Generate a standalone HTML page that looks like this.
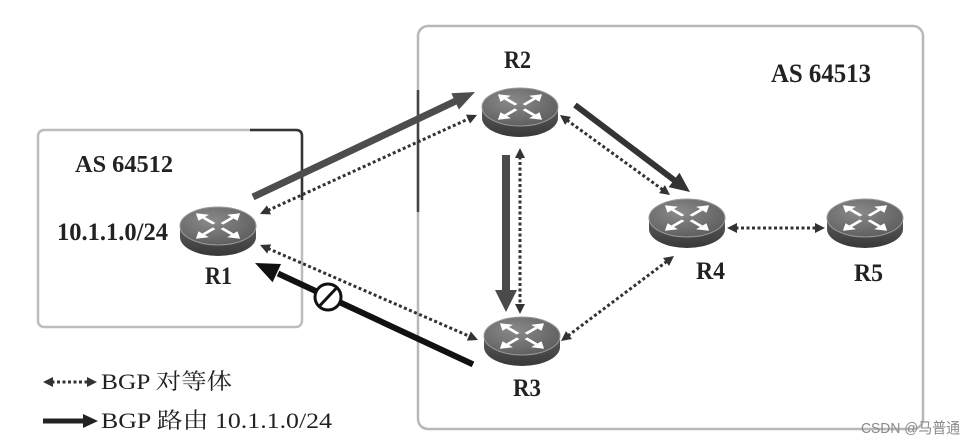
<!DOCTYPE html>
<html><head><meta charset="utf-8"><style>
html,body{margin:0;padding:0;background:#fff;}
svg{display:block;}
text{font-family:"Liberation Serif","Noto Serif CJK SC",serif;fill:#222;}
</style></head><body>
<svg width="976" height="443" viewBox="0 0 976 443" xmlns="http://www.w3.org/2000/svg">
<defs>
 <linearGradient id="side" x1="0" y1="0" x2="0" y2="1"><stop offset="0" stop-color="#5c5c5c"/><stop offset="1" stop-color="#383838"/></linearGradient>
 <radialGradient id="face" cx="0.4" cy="0.35" r="0.75"><stop offset="0" stop-color="#8a8a8a"/><stop offset="1" stop-color="#5a5a5a"/></radialGradient>
 <marker id="dh" viewBox="0 0 10 10" refX="7" refY="5" markerWidth="10" markerHeight="10" markerUnits="userSpaceOnUse" orient="auto-start-reverse"><path d="M0,0 L10,5 L0,10 z" fill="#333"/></marker>
 <g id="arr"><line x1="3" y1="-3" x2="11" y2="-11" stroke="#fff" stroke-width="3"/><path d="M17,-17 L7,-15 L15,-7 z" fill="#fff"/></g>
 <g id="router">
   <path d="M-38,0 L-38,11 A38,19 0 0 0 38,11 L38,0 z" fill="url(#side)"/>
   <ellipse rx="38" ry="19" fill="url(#face)" stroke="#9a9a9a" stroke-width="1"/>
   <g transform="scale(1.3,0.75)">
     <use href="#arr"/>
     <use href="#arr" transform="rotate(90)"/>
     <use href="#arr" transform="rotate(180)"/>
     <use href="#arr" transform="rotate(270)"/>
   </g>
 </g>
</defs>

<!-- AS boxes -->
<rect x="418" y="26" width="505" height="403" rx="10" fill="none" stroke="#b8b8b8" stroke-width="2.5"/>
<rect x="38" y="130" width="264" height="197" rx="6" fill="none" stroke="#bdbdbd" stroke-width="2.5"/>
<path d="M250,130 L296,130 Q302,130 302,136 L302,200" fill="none" stroke="#333" stroke-width="2.5"/>
<line x1="418" y1="90" x2="418" y2="212" stroke="#444" stroke-width="2.5"/>

<!-- dotted BGP peer lines -->
<g stroke="#333" stroke-width="3" stroke-dasharray="3 2.5" fill="none">
 <line x1="262.7" y1="212.8" x2="474.3" y2="116.2" marker-start="url(#dh)" marker-end="url(#dh)"/>
 <line x1="262.8" y1="246.2" x2="475.2" y2="338.8" marker-start="url(#dh)" marker-end="url(#dh)"/>
 <line x1="562.4" y1="116.8" x2="667.6" y2="193.2" marker-start="url(#dh)" marker-end="url(#dh)"/>
 <line x1="520" y1="151" x2="520" y2="311" marker-start="url(#dh)" marker-end="url(#dh)"/>
 <line x1="563.4" y1="339.2" x2="671.6" y2="257.8" marker-start="url(#dh)" marker-end="url(#dh)"/>
 <line x1="730" y1="228" x2="822" y2="228" marker-start="url(#dh)" marker-end="url(#dh)"/>
 <line x1="46" y1="382" x2="94" y2="382" marker-start="url(#dh)" marker-end="url(#dh)"/>
</g>

<!-- thick route arrows -->
<line x1="253" y1="197" x2="457.8" y2="100.1" stroke="#4d4d4d" stroke-width="7"/>
<polygon points="475,92 458.9,109.5 451.3,93.3" fill="#4d4d4d"/>

<line x1="575" y1="105" x2="676" y2="181.5" stroke="#333" stroke-width="6"/>
<polygon points="690,192 668.6,187.1 679.5,172.8" fill="#333"/>

<line x1="506" y1="155" x2="506" y2="292" stroke="#4a4a4a" stroke-width="8"/>
<polygon points="506,312 495,290 517,290" fill="#4a4a4a"/>

<line x1="473" y1="364.4" x2="278" y2="273.5" stroke="#111" stroke-width="6"/>
<polygon points="255,263 281,264 272.6,282.2" fill="#111"/>
<circle cx="328" cy="297" r="13" fill="#fff" stroke="#111" stroke-width="3"/>
<line x1="320" y1="305.5" x2="336" y2="288.5" stroke="#111" stroke-width="3"/>

<line x1="43" y1="421" x2="85" y2="421" stroke="#222" stroke-width="5"/>
<polygon points="98,421 83,414 83,428" fill="#222"/>

<!-- routers -->
<use href="#router" transform="translate(218,226)"/>
<use href="#router" transform="translate(520,107)"/>
<use href="#router" transform="translate(522,336)"/>
<use href="#router" transform="translate(687,218)"/>
<use href="#router" transform="translate(865,218)"/>

<!-- labels -->
<text x="75" y="172" font-size="24" font-weight="bold" textLength="98" lengthAdjust="spacingAndGlyphs">AS 64512</text>
<text x="57" y="240" font-size="25" font-weight="bold" textLength="111" lengthAdjust="spacingAndGlyphs">10.1.1.0/24</text>
<text x="205" y="284" font-size="25" font-weight="bold" textLength="27" lengthAdjust="spacingAndGlyphs">R1</text>
<text x="504" y="68" font-size="25" font-weight="bold" textLength="27" lengthAdjust="spacingAndGlyphs">R2</text>
<text x="513" y="396" font-size="25" font-weight="bold" textLength="28" lengthAdjust="spacingAndGlyphs">R3</text>
<text x="696" y="279" font-size="25" font-weight="bold" textLength="29" lengthAdjust="spacingAndGlyphs">R4</text>
<text x="854" y="281" font-size="25" font-weight="bold" textLength="29" lengthAdjust="spacingAndGlyphs">R5</text>
<text x="771" y="82" font-size="26" font-weight="bold" textLength="100" lengthAdjust="spacingAndGlyphs">AS 64513</text>

<text x="101" y="389" font-size="22" fill="#222" textLength="131" lengthAdjust="spacingAndGlyphs">BGP 对等体</text>
<text x="101" y="428" font-size="22" fill="#222" textLength="231" lengthAdjust="spacingAndGlyphs">BGP 路由 10.1.1.0/24</text>

<text x="861" y="433" font-size="15" style="font-family:'Liberation Sans','Noto Sans CJK SC',sans-serif;fill:#8a8a8a" textLength="99" lengthAdjust="spacingAndGlyphs">CSDN @马普通</text>
</svg>
</body></html>
